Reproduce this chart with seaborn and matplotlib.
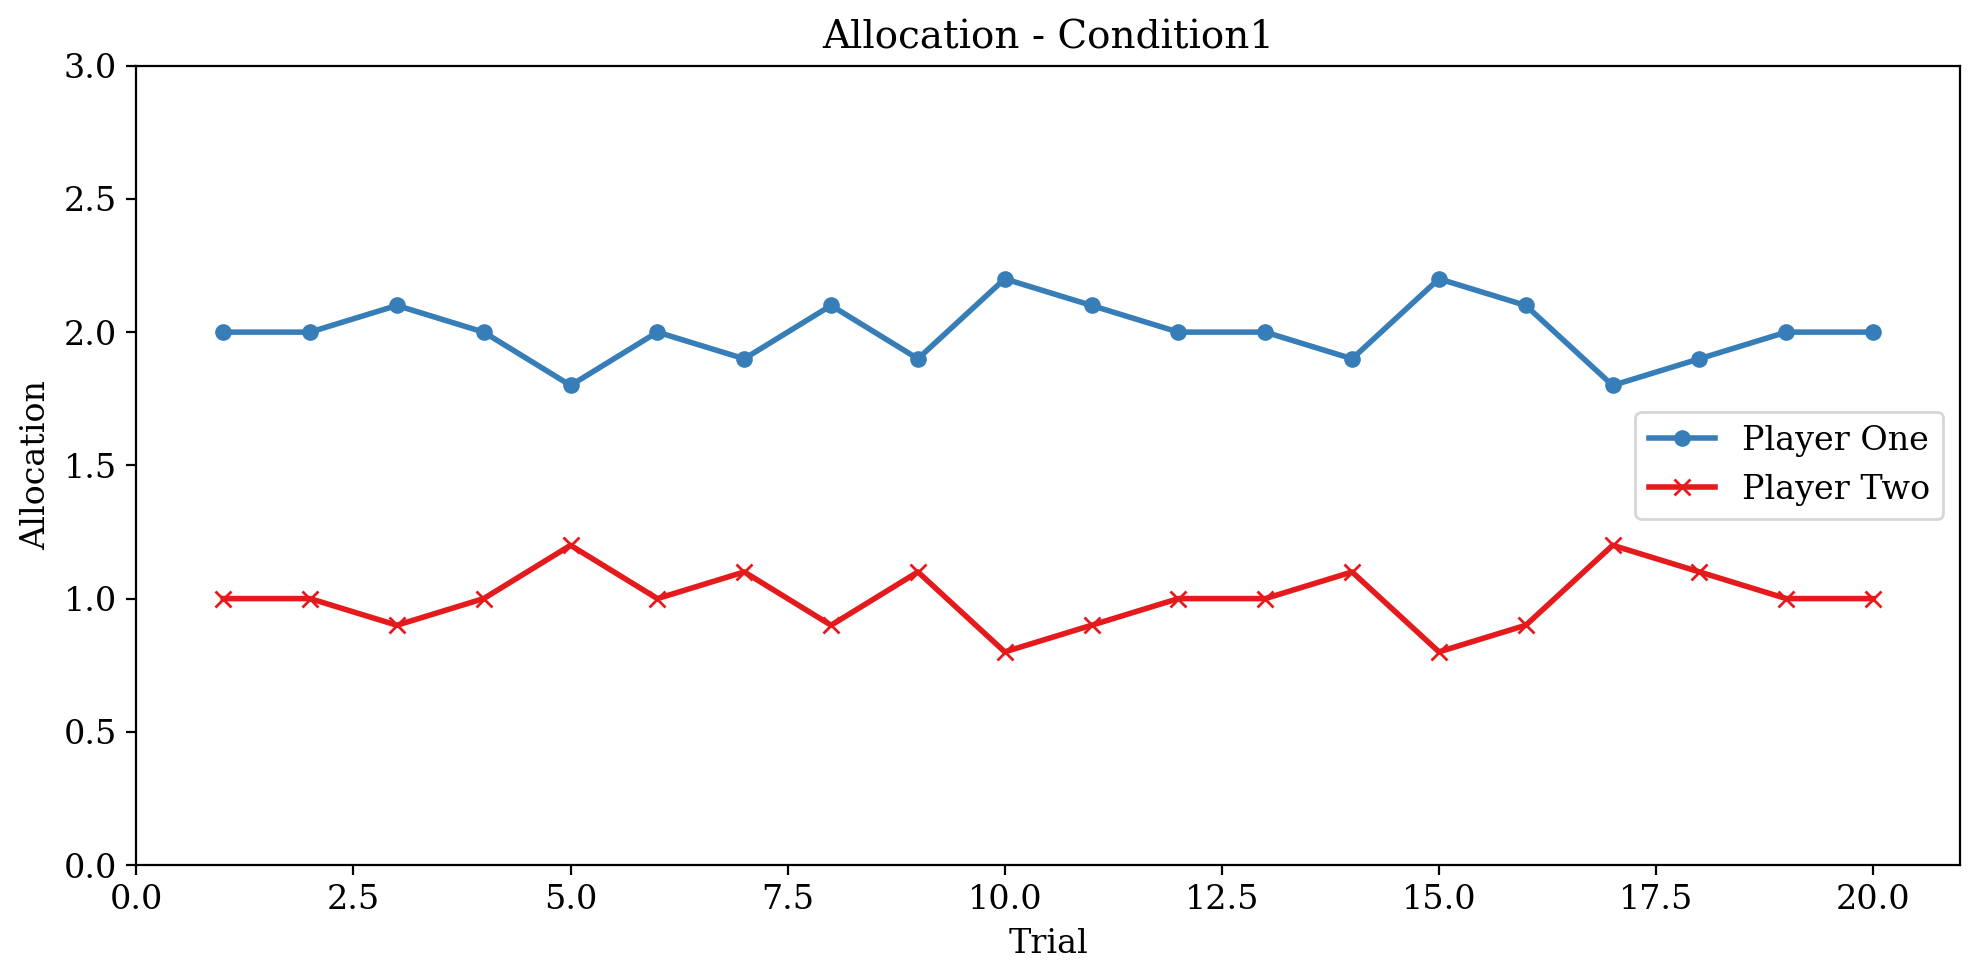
import matplotlib
matplotlib.use("Agg")
import matplotlib.pyplot as plt
import seaborn as sns
import pandas as pd

trials = list(range(1, 21))
player_one = [2.0, 2.0, 2.1, 2.0, 1.8, 2.0, 1.9, 2.1, 1.9, 2.2, 2.1, 2.0, 2.0, 1.9, 2.2, 2.1, 1.8, 1.9, 2.0, 2.0]
player_two = [1.0, 1.0, 0.9, 1.0, 1.2, 1.0, 1.1, 0.9, 1.1, 0.8, 0.9, 1.0, 1.0, 1.1, 0.8, 0.9, 1.2, 1.1, 1.0, 1.0]

plt.rcParams['font.family'] = ['DejaVu Serif']

fig, ax = plt.subplots(figsize=(1979/200, 980/200), dpi=200)
df1 = pd.DataFrame({"Trial": trials, "Allocation": player_one})
df2 = pd.DataFrame({"Trial": trials, "Allocation": player_two})
sns.lineplot(data=df1, x="Trial", y="Allocation", ax=ax, color="#377eb8", marker="o",
             markersize=6, markeredgewidth=0, linewidth=2, label="Player One")
sns.lineplot(data=df2, x="Trial", y="Allocation", ax=ax, color="#e41a1c", marker="x",
             markersize=6, markeredgewidth=1.0, markeredgecolor="#e41a1c", linewidth=2, label="Player Two")
ax.set_xlim(0, 21)
ax.set_ylim(0, 3)
ax.set_title("Allocation - Condition1", fontsize=14)
ax.set_xlabel("Trial", fontsize=12)
ax.set_ylabel("Allocation", fontsize=12)
ax.tick_params(labelsize=12)
ax.legend(loc="center right", fontsize=12)
fig.subplots_adjust(left=0.0689, right=0.9904, top=0.933, bottom=0.1173)
fig.savefig("out.png", dpi=200)
